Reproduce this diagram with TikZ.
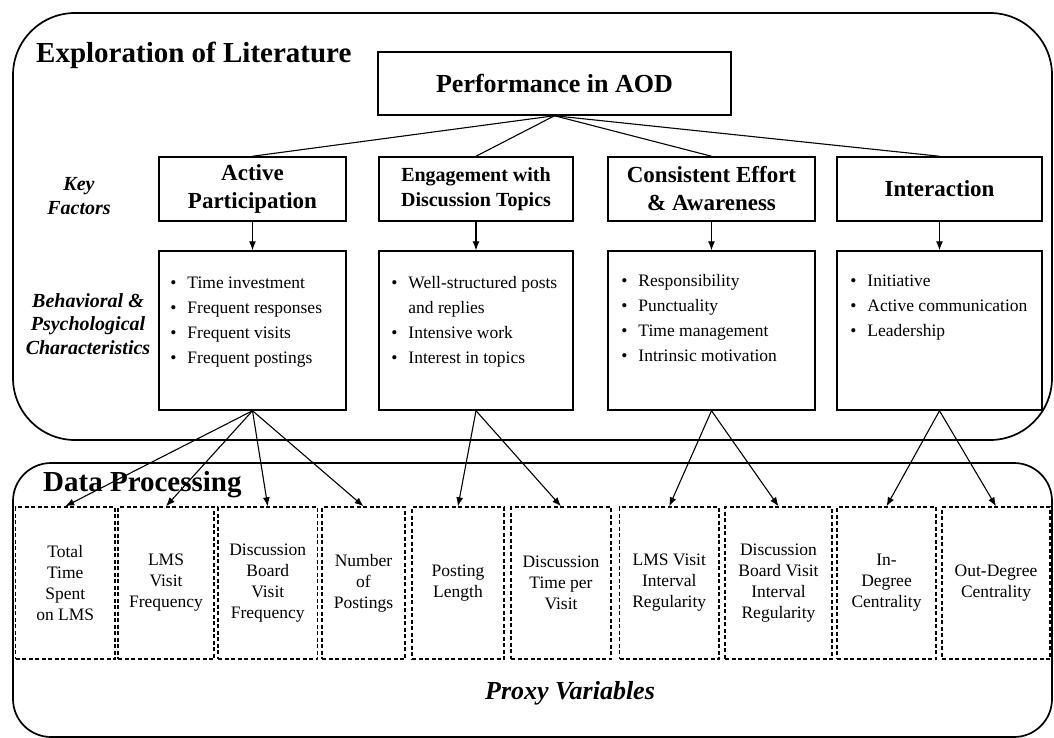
\documentclass[tikz,border=0pt]{standalone}
\usepackage{fontspec}
\setmainfont{Liberation Serif}
\usetikzlibrary{arrows.meta}
\newcommand{\itm}[1]{\makebox[17pt][l]{\textbullet}#1}

\begin{document}
\begin{tikzpicture}
		[   x=1pt,y=-1pt,
		    area/.style={draw,line width=1.7pt,rounded corners=#1,inner sep=0pt},
		    fbox/.style={draw,line width=1.5pt,minimum height=64pt,inner sep=2pt,align=center,font=\bfseries\fontsize{23}{28}\selectfont},
		    bbox/.style={draw,line width=1.5pt,minimum height=159pt,inner sep=0pt},
		    pbox/.style={draw,line width=1.4pt,dash pattern=on 4pt off 2.5pt,minimum height=152pt,inner sep=1pt,align=center,font=\fontsize{17.5}{21}\selectfont},
		    blist/.style={inner sep=0pt,font=\fontsize{17.5}{25}\selectfont},
		    side/.style={inner sep=0pt,align=center,font=\bfseries\itshape\fontsize{20}{24}\selectfont},
		    head/.style={inner sep=0pt,font=\bfseries\fontsize{29}{34}\selectfont},
		]
		\tikzset{normal arrow/.style={draw,line width=1.1pt,-{Latex[length=9pt,width=7pt]}}}
		\useasboundingbox (0,0) rectangle (1054,738);
		
		\node[area=62pt,minimum width=1039pt,minimum height=427pt] (lit) at (532.5,226.5) {};
		\node[area=38pt,minimum width=1039pt,minimum height=274pt] (dp) at (532.5,600) {};
		
		\node[head,anchor=base west] (lit-t) at (36,63) {Exploration of Literature};
		\node[head,anchor=base west] (dp-t) at (43,491) {Data Processing};
		
		\node[draw,line width=1.5pt,minimum width=353pt,minimum height=63pt,font=\bfseries\fontsize{26}{30}\selectfont] (aod) at (554.5,83.5) {Performance in AOD};
		
		\node[side] (kf) at (79,196) {Key\\Factors};
		\node[side,font=\bfseries\itshape\fontsize{20}{23.5}\selectfont] (bp) at (88,324) {Behavioral \&\\Psychological\\Characteristics};
		
		\node[fbox,minimum width=187pt] (f-1) at (252.5,189) {Active\\Participation};
		\node[fbox,minimum width=194pt,font=\bfseries\fontsize{20}{25}\selectfont] (f-2) at (476,189) {Engagement with\\Discussion Topics};
		\node[fbox,minimum width=207pt] (f-3) at (711.5,189) {Consistent Effort\\\& Awareness};
		\node[fbox,minimum width=205pt] (f-4) at (939.5,189) {Interaction};
		
		\node[bbox,minimum width=187pt] (b-1) at (252.5,330.5) {};
		\node[bbox,minimum width=194pt] (b-2) at (476,330.5) {};
		\node[bbox,minimum width=207pt] (b-3) at (711.5,330.5) {};
		\node[bbox,minimum width=205pt] (b-4) at (939.5,330.5) {};
		
		\node[blist,anchor=north west] (bt-1) at ([shift={(12,21)}]b-1.north west)
		{\begin{tabular}{@{}l@{}}\itm{Time investment}\\\itm{Frequent responses}\\\itm{Frequent visits}\\\itm{Frequent postings}\end{tabular}};
		\node[blist,anchor=north west] (bt-2) at ([shift={(13,21)}]b-2.north west)
		{\begin{tabular}{@{}l@{}}\itm{Well-structured posts}\\\hspace*{17pt}and replies\\\itm{Intensive work}\\\itm{Interest in topics}\end{tabular}};
		\node[blist,anchor=north west] (bt-3) at ([shift={(14,19)}]b-3.north west)
		{\begin{tabular}{@{}l@{}}\itm{Responsibility}\\\itm{Punctuality}\\\itm{Time management}\\\itm{Intrinsic motivation}\end{tabular}};
		\node[blist,anchor=north west] (bt-4) at ([shift={(14,19)}]b-4.north west)
		{\begin{tabular}{@{}l@{}}\itm{Initiative}\\\itm{Active communication}\\\itm{Leadership}\end{tabular}};
		
		\node[pbox,minimum width=99.5pt] (p-1) at (65.25,583) {Total\\Time\\Spent\\on LMS};
		\node[pbox,minimum width=96pt] (p-2) at (166,583) {LMS\\Visit\\Frequency};
		\node[pbox,minimum width=99.5pt] (p-3) at (267.75,583) {Discussion\\Board\\Visit\\Frequency};
		\node[pbox,minimum width=83pt] (p-4) at (363.5,583) {Number\\of\\Postings};
		\node[pbox,minimum width=92pt] (p-5) at (458,583) {Posting\\Length};
		\node[pbox,minimum width=100pt] (p-6) at (561,583) {Discussion\\Time per\\Visit};
		\node[pbox,minimum width=99.5pt] (p-7) at (669.25,583) {LMS Visit\\Interval\\Regularity};
		\node[pbox,minimum width=107pt] (p-8) at (778.5,583) {Discussion\\Board Visit\\Interval\\Regularity};
		\node[pbox,minimum width=99pt] (p-9) at (886.5,583) {In-\\Degree\\Centrality};
		\node[pbox,minimum width=108pt] (p-10) at (996,583) {Out-Degree\\Centrality};
		
		\node[inner sep=0pt,font=\bfseries\itshape\fontsize{26}{30}\selectfont] (pv) at (570,693) {Proxy Variables};
		
		\foreach \x in {1,...,4}
		{
			\draw[line width=1.1pt] (aod.south) -- (f-\x.north);
			\path[normal arrow] (f-\x.south) -- (b-\x.north);
		}
		
		\foreach \x/\list in {1/{1,2,3,4},2/{5,6},3/{7,8},4/{9,10}}
		{
			\foreach \y in \list
			{
				\path[normal arrow] (b-\x.south) -- (p-\y.north);
			}
		}
\end{tikzpicture}
\end{document}
